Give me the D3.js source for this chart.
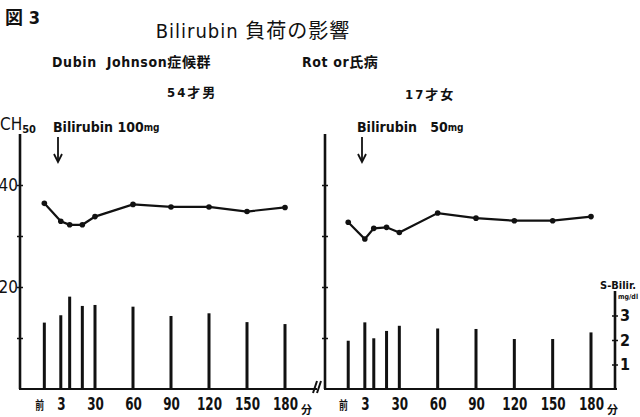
<!DOCTYPE html>
<html>
<head>
<meta charset="utf-8">
<script src="https://cdn.jsdelivr.net/npm/d3@7"></script>
<style>
  body { margin: 0; background: #fff; }
  svg { display: block; }
  text { fill: #111; white-space: pre; font-family: "DejaVu Sans Condensed", "Liberation Sans", "Noto Sans CJK JP", sans-serif; }
  .axis path, .axis line { stroke: #111; }
</style>
</head>
<body>
<div id="chart"></div>
<script>
// 時間 (分)  -10 = 前
const times = [-10, 3, 10, 20, 30, 60, 90, 120, 150, 180];
const tickTimes = [-10, 3, 30, 60, 90, 120, 150, 180];
const tickLabels = ["前", "3", "30", "60", "90", "120", "150", "180"];

// Dubin Johnson症候群 54才男
const djCH50 = [36.4, 32.9, 32.2, 32.2, 33.8, 36.2, 35.7, 35.7, 34.8, 35.6];
const djBilir = [2.71, 3.01, 3.77, 3.39, 3.43, 3.36, 2.98, 3.09, 2.73, 2.65];

// Rotor氏病 17才女
const rotorCH50 = [32.7, 29.4, 31.5, 31.7, 30.7, 34.5, 33.5, 33.0, 33.0, 33.8];
const rotorBilir = [1.97, 2.72, 2.07, 2.37, 2.58, 2.47, 2.45, 2.04, 2.04, 2.31];

const ch50Ticks = [10, 20, 30, 40];
const ch50Labels = [20, 40];
const bilirTicks = [1, 2, 3];

const svg = d3.select("#chart").append("svg")
    .attr("width", 640)
    .attr("height", 417);

const base = 389;
const yCH = d3.scaleLinear().domain([0, 50]).range([base, 134]);
const yB = d3.scaleLinear().domain([0, 4]).range([base, 291]);

const panels = [
    { ch: djCH50, bil: djBilir, x: d3.scaleLinear().domain([0, 180]).range([57, 285]),
      axisX: 20, endX: 317, labels: true, dose: "100", subtitle: "Dubin  Johnson症候群", age: "54才男" },
    { ch: rotorCH50, bil: rotorBilir, x: d3.scaleLinear().domain([0, 180]).range([361, 591]),
      axisX: 325, endX: 617, labels: false, dose: "  50", subtitle: "Rot or氏病", age: "17才女" }
];

// 見出し
svg.append("text").attr("x", 5).attr("y", 24).attr("font-size", 18).attr("font-weight", "bold")
    .text("図 3");
svg.append("text").attr("x", 253).attr("y", 38).attr("text-anchor", "middle")
    .attr("font-size", 20).attr("letter-spacing", 1).text("Bilirubin 負荷の影響");
svg.append("text").attr("x", 52).attr("y", 67).attr("font-size", 14).attr("font-weight", "bold")
    .attr("letter-spacing", 0.6).text(panels[0].subtitle);
svg.append("text").attr("x", 302).attr("y", 67).attr("font-size", 14).attr("font-weight", "bold")
    .attr("letter-spacing", 0.6).text(panels[1].subtitle);
svg.append("text").attr("x", 167).attr("y", 97).attr("font-size", 13).attr("font-weight", "bold")
    .attr("letter-spacing", 2).text(panels[0].age);
svg.append("text").attr("x", 405).attr("y", 99).attr("font-size", 13).attr("font-weight", "bold")
    .attr("letter-spacing", 2).text(panels[1].age);

// CH50
const ch = svg.append("text").attr("x", 0).attr("y", 130).attr("font-size", 17);
ch.append("tspan").text("CH");
ch.append("tspan").attr("font-size", 11).attr("dy", 3).attr("font-weight", "bold").text("50");

panels.forEach(p => {
    const g = svg.append("g");

    // y軸 (CH50)
    const ay = g.append("g").attr("class", "axis")
        .attr("transform", `translate(${p.axisX},0)`)
        .call(d3.axisLeft(yCH).tickValues(ch50Ticks).tickSize(4).tickFormat(""));
    ay.select(".domain").attr("d", `M0,${yCH(50)}V${base}`).attr("stroke-width", 2.6);
    ay.selectAll(".tick line").attr("x1", 3).attr("x2", -3).attr("stroke-width", 1.5);

    if (p.labels) {
        ch50Labels.forEach(v => {
            g.append("text").attr("x", p.axisX - 2).attr("y", yCH(v) + 6)
                .attr("text-anchor", "end").attr("font-size", 17).text(v);
        });
    }

    // x軸
    g.append("line").attr("x1", p.axisX - 1).attr("x2", p.endX)
        .attr("y1", base).attr("y2", base).attr("stroke", "#111").attr("stroke-width", 2);

    const ax = g.append("g").attr("class", "axis")
        .attr("transform", `translate(0,${base})`)
        .call(d3.axisBottom(p.x).tickValues(tickTimes).tickSize(0)
            .tickFormat((d, i) => tickLabels[i]));
    ax.select(".domain").remove();
    ax.selectAll(".tick text")
        .attr("y", 21)
        .attr("dy", 0)
        .attr("font-size", (d, i) => i === 0 ? 12 : 18)
        .attr("font-weight", "bold")
        .attr("x", (d, i) => i === 0 ? -7 : 0)
        .attr("transform", "scale(0.74,1)")
        .attr("fill", "#111");
    g.append("text").attr("x", p.x(180) + 16).attr("y", 414).attr("font-size", 11)
        .attr("font-weight", "bold").text("分");

    // S-Bilir 棒
    g.selectAll(".bar").data(p.bil).enter().append("rect")
        .attr("class", "bar")
        .attr("x", (d, i) => p.x(times[i]) - 1.5)
        .attr("width", 3)
        .attr("y", d => yB(d))
        .attr("height", d => base - yB(d))
        .attr("fill", "#111");

    // CH50 折れ線
    const line = d3.line().x((d, i) => p.x(times[i])).y(d => yCH(d));
    g.append("path").datum(p.ch).attr("d", line)
        .attr("fill", "none").attr("stroke", "#111").attr("stroke-width", 2.2);
    g.selectAll(".dot").data(p.ch).enter().append("circle")
        .attr("class", "dot")
        .attr("cx", (d, i) => p.x(times[i]))
        .attr("cy", d => yCH(d))
        .attr("r", 2.8)
        .attr("fill", "#111");

    // 投与
    const lab = g.append("text").attr("x", p.x(0) - 4).attr("y", 132)
        .attr("font-size", 14).attr("font-weight", "bold");
    lab.append("tspan").text("Bilirubin " + p.dose);
    lab.append("tspan").attr("font-size", 10).attr("dy", -1).text("mg");
    const arrowX = p.x(0) + 1;
    g.append("line").attr("x1", arrowX).attr("x2", arrowX).attr("y1", 137).attr("y2", 160)
        .attr("stroke", "#111").attr("stroke-width", 1.8);
    g.append("path").attr("d", `M${arrowX - 4},154L${arrowX},162L${arrowX + 4},154`)
        .attr("fill", "none").attr("stroke", "#111").attr("stroke-width", 1.8);
});

// 右軸 S-Bilir
const rightX = 615;
const ar = svg.append("g").attr("class", "axis")
    .attr("transform", `translate(${rightX},0)`)
    .call(d3.axisRight(yB).tickValues(bilirTicks).tickSize(3).tickPadding(2).tickFormat(d3.format("d")));
ar.select(".domain").attr("d", `M0,${yB(4)}V${base}`).attr("stroke-width", 2.6);
ar.selectAll(".tick line").attr("x1", -3).attr("x2", 3).attr("stroke-width", 1.5);
ar.selectAll(".tick text").attr("font-size", 16).attr("font-weight", "bold").attr("fill", "#111");
svg.append("text").attr("x", 600).attr("y", 289).attr("font-size", 11).attr("font-weight", "bold")
    .text("S-Bilir.");
svg.append("text").attr("x", 618).attr("y", 299).attr("font-size", 7).attr("font-weight", "bold")
    .text("mg/dl");

// 省略記号
svg.append("path")
    .attr("d", "M313,393L317,381M317,393L321,381")
    .attr("stroke", "#111").attr("stroke-width", 2).attr("fill", "none");
</script>
</body>
</html>
